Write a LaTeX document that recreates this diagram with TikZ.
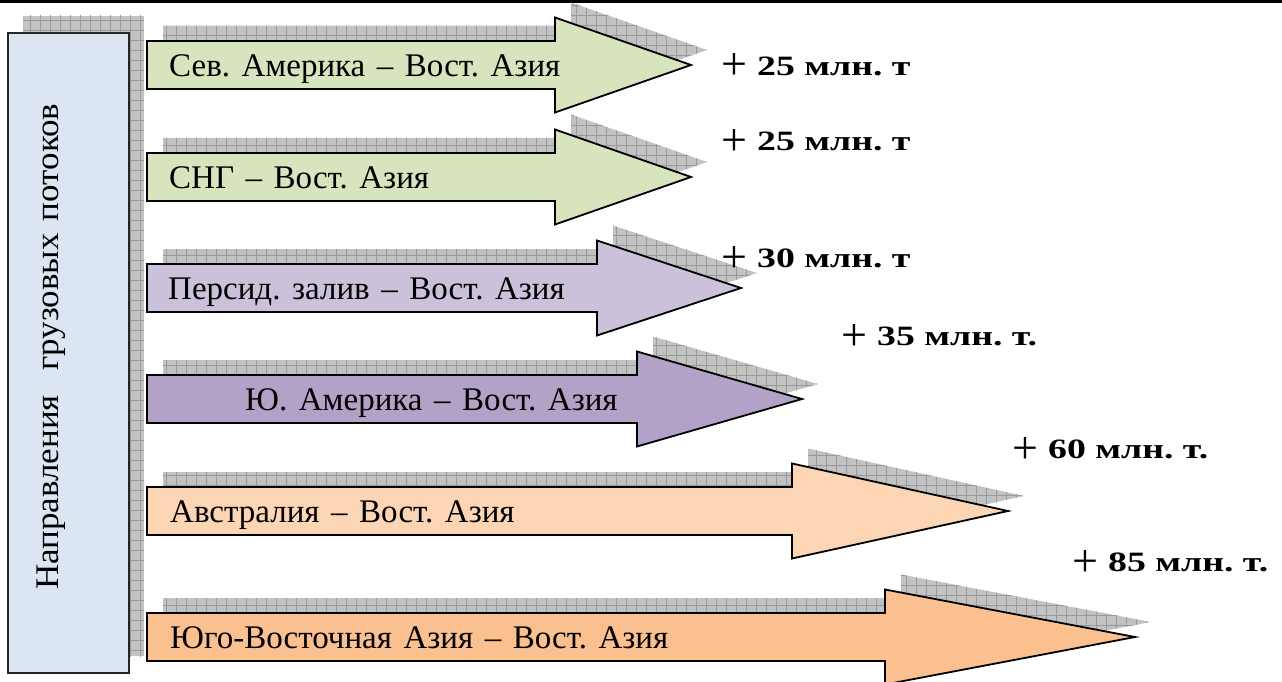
\documentclass[tikz,border=0pt]{standalone}
\usepackage{fontspec}
\setmainfont[WordSpace=1.4]{Liberation Serif}
\newfontfamily\numfont[FakeStretch=1.35]{Liberation Serif}
\newfontfamily\plusfont{Liberation Serif}
\newfontfamily\sidefont[FakeStretch=1.06, WordSpace=1.4]{Liberation Serif}
\frenchspacing
\definecolor{boxblue}{HTML}{DCE6F2}
\definecolor{greenA}{HTML}{D7E4BD}
\definecolor{lilacA}{HTML}{CCC1DA}
\definecolor{lilacB}{HTML}{B3A2C7}
\definecolor{orangeA}{HTML}{FCD5B5}
\definecolor{orangeB}{HTML}{FAC090}
\tikzset{
  outline/.style={draw=black, line width=1.8pt, line join=miter},
  shadowfill/.style={fill=black!24},
  shadowgrid/.style={draw=black!40, line width=0.7pt},
  arrowtext/.style={anchor=base west, inner sep=0pt, font=\fontsize{33}{38}\selectfont},
  numtext/.style={anchor=base west, inner sep=0pt, font=\numfont\fontsize{28}{32}\selectfont},
  sidetext/.style={anchor=base west, inner sep=0pt, rotate=90, font=\sidefont\fontsize{33}{38}\selectfont}
}
\newcommand\plusmark{\raisebox{-4.5pt}{\plusfont\fontsize{46}{50}\selectfont +}\hspace{10pt}}
% #1 centre y, #2 head x, #3 tip x
\newcommand\arrowshape[3]{(147,#1-24) -- (#2,#1-24) -- (#2,#1-47.5) -- (#3,#1) -- (#2,#1+47.5) -- (#2,#1+24) -- (147,#1+24) -- cycle}
\newcommand\shadowgridlines{\draw[shadowgrid] (0pt,0pt) grid[step=10pt] (1300pt,-700pt);}
\newcommand\arrowshadow[3]{%
  \begin{scope}[shift={(16,-15)}]
    \clip \arrowshape{#1}{#2}{#3};
    \fill[shadowfill] \arrowshape{#1}{#2}{#3};
    \shadowgridlines
  \end{scope}}
\newcommand\flowarrow[4]{\filldraw[outline, fill=#4] \arrowshape{#1}{#2}{#3};}
\begin{document}
\begin{tikzpicture}[x=1pt, y=-1pt]
\useasboundingbox (0,0) rectangle (1282,682);
% top rule
\draw[line width=2.8pt] (0,1.5) -- (1282,1.5);
% shadows
\begin{scope}
  \clip (23,16) rectangle (144,656);
  \fill[shadowfill] (23,16) rectangle (144,656);
  \shadowgridlines
\end{scope}
\arrowshadow{65}{555}{691}
\arrowshadow{177}{555}{691}
\arrowshadow{288}{597}{741}
\arrowshadow{399}{637}{802}
\arrowshadow{511}{792}{1008}
\arrowshadow{637}{885}{1135}
% left box
\node[outline, fill=boxblue, draw=black!85, minimum width=121pt, minimum height=640pt, inner sep=0pt, anchor=north west] (dirbox) at (7,32) {};
\node[sidetext] (dirlabel) at (58,590) {Направления\ \ грузовых потоков};
% arrows
\flowarrow{65}{555}{691}{greenA}
\flowarrow{177}{555}{691}{greenA}
\flowarrow{288}{597}{741}{lilacA}
\flowarrow{399}{637}{802}{lilacB}
\flowarrow{511}{792}{1008}{orangeA}
\flowarrow{637}{885}{1135}{orangeB}
% arrow labels
\node[arrowtext] (t1) at (169,76.5) {Сев. Америка – Вост. Азия};
\node[arrowtext] (t2) at (169,188.5) {СНГ – Вост. Азия};
\node[arrowtext] (t3) at (168,299.5) {Персид. залив – Вост. Азия};
\node[arrowtext] (t4) at (245,410.5) {Ю. Америка – Вост. Азия};
\node[arrowtext] (t5) at (170,522.5) {Австралия – Вост. Азия};
\node[arrowtext] (t6) at (170,648.5) {Юго-Восточная Азия – Вост. Азия};
% growth labels
\node[numtext] (n1) at (721,75.5) {\plusmark\textbf{25 млн. т}};
\node[numtext] (n2) at (721,150.5) {\plusmark\textbf{25 млн. т}};
\node[numtext] (n3) at (721,267.5) {\plusmark\textbf{30 млн. т}};
\node[numtext] (n4) at (841,345.5) {\plusmark\textbf{35 млн. т.}};
\node[numtext] (n5) at (1012,458.5) {\plusmark\textbf{60 млн. т.}};
\node[numtext] (n6) at (1072,571.5) {\plusmark\textbf{85 млн. т.}};
\end{tikzpicture}
\end{document}
